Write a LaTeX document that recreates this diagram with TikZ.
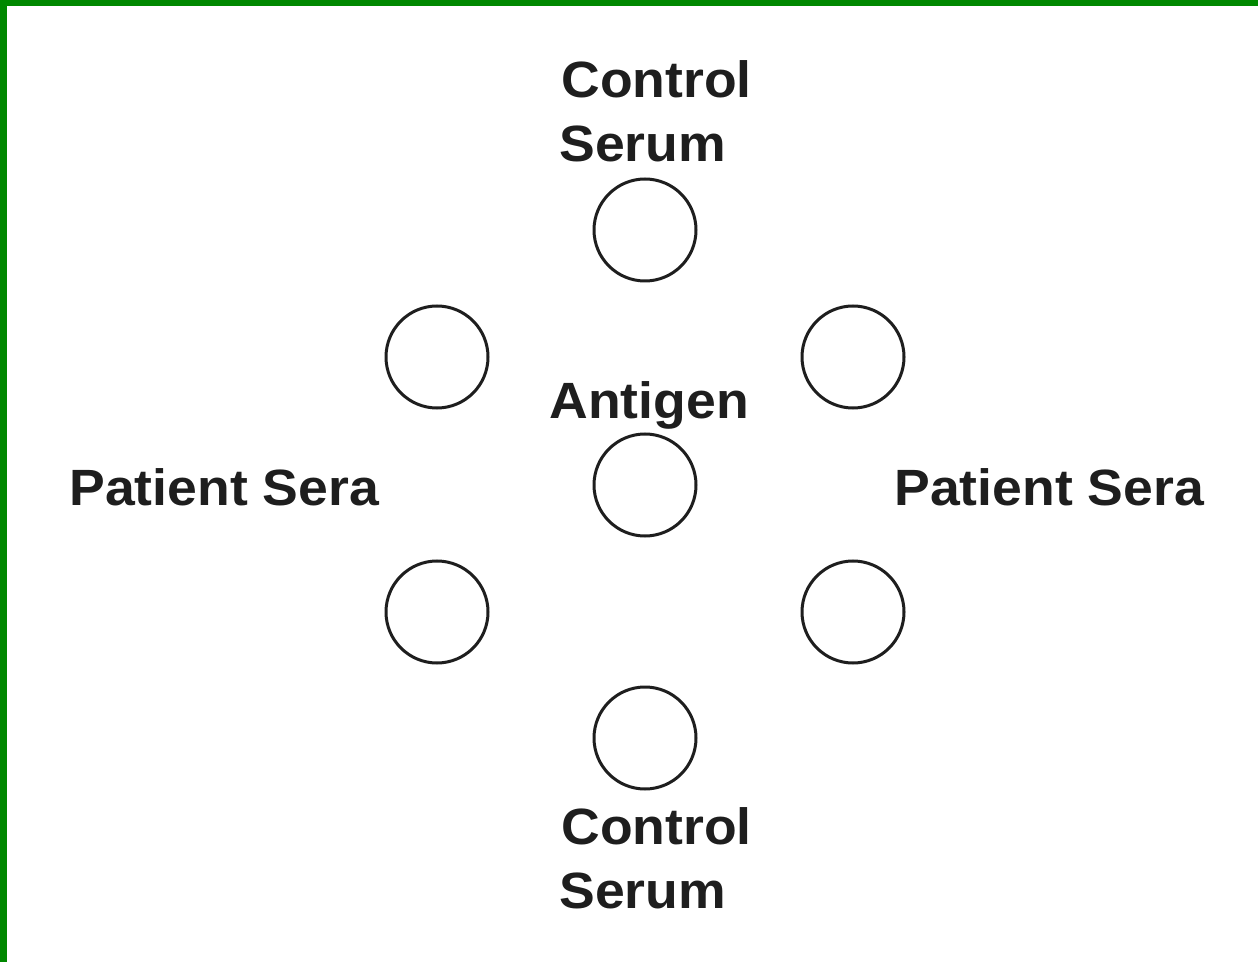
\documentclass[tikz,border=0pt]{standalone}
\usepackage{fontspec}
\setmainfont{Liberation Sans}
\newfontfamily\lblfont[FakeStretch=1.05]{Liberation Sans}
\definecolor{frame}{RGB}{0,136,0}
\definecolor{ink}{RGB}{30,30,30}
\begin{document}
\begin{tikzpicture}[x=0.5pt,y=-0.5pt,
  well/.style={circle,draw=ink,line width=1.5pt,minimum size=51pt,inner sep=0pt},
  lbl/.style={anchor=base west,inner sep=0pt,text=ink,font=\lblfont\fontsize{25.5pt}{32pt}\selectfont\bfseries}]
\useasboundingbox (0,0) rectangle (1258,962);
\fill[white] (0,0) rectangle (1258,962);
\fill[frame] (0,0) rectangle (1258,6);
\fill[frame] (0,0) rectangle (7,962);
\node[well] (top) at (645,230) {};
\node[well] (ul) at (437,357) {};
\node[well] (ur) at (853,357) {};
\node[well] (mid) at (645,485) {};
\node[well] (ll) at (437,612) {};
\node[well] (lr) at (853,612) {};
\node[well] (bot) at (645,738) {};
\node[lbl] (tc1) at (561,98) {Control};
\node[lbl] (tc2) at (559,162) {Serum};
\node[lbl] (ant) at (549,419) {Antigen};
\node[lbl] (pl) at (69,505) {Patient Sera};
\node[lbl] (pr) at (894,505) {Patient Sera};
\node[lbl] (bc1) at (561,844) {Control};
\node[lbl] (bc2) at (559,908) {Serum};
\end{tikzpicture}
\end{document}
